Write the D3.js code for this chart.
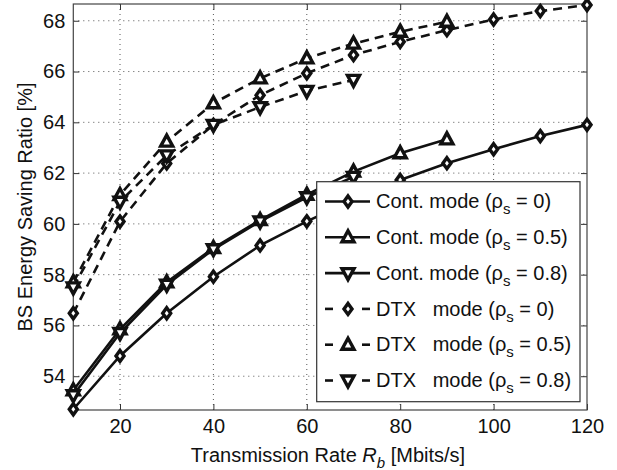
<!DOCTYPE html>
<html><head><meta charset="utf-8">
<script src="https://cdn.jsdelivr.net/npm/d3@7"></script>
<style>
body{margin:0;background:#fff;}
text{font-family:"Liberation Sans",Arial,sans-serif;fill:#111;}
</style></head>
<body>
<svg id="c" width="617" height="470"></svg>
<script>
const rates = [10,20,30,40,50,60,70,80,90,100,110,120];
const xTicks = [20,40,60,80,100,120];
const yTicks = [54,56,58,60,62,64,66,68];

const contRho0   = [52.7,54.8,56.48,57.92,59.15,60.1,60.95,61.73,62.39,62.94,63.46,63.9];
const contRho05  = [53.45,55.85,57.7,59.05,60.15,61.15,62.06,62.78,63.33];
const contRho08  = [53.25,55.7,57.6,59.0,60.1,61.05,61.85];
const dtxRho0    = [56.48,60.09,62.38,63.9,65.07,65.93,66.65,67.17,67.63,68.05,68.38,68.62];
const dtxRho05   = [57.7,61.14,63.24,64.75,65.73,66.52,67.1,67.57,67.96];
const dtxRho08   = [57.5,60.87,62.7,63.9,64.6,65.24,65.67];

const seriesNames = ["Cont. mode","Cont. mode","Cont. mode","DTX\u00A0\u00A0\u00A0mode","DTX\u00A0\u00A0\u00A0mode","DTX\u00A0\u00A0\u00A0mode"];
const rhoLabels = ["0","0.5","0.8","0","0.5","0.8"];

const series = [
  {vals:contRho0, marker:"diamond", dashed:false},
  {vals:contRho05, marker:"up", dashed:false},
  {vals:contRho08, marker:"down", dashed:false},
  {vals:dtxRho0, marker:"diamond", dashed:true},
  {vals:dtxRho05, marker:"up", dashed:true},
  {vals:dtxRho08, marker:"down", dashed:true}
];

const FS = "20px";
const svg = d3.select("#c");
const L=73.3, R=587, T=4, B=410;
const x = d3.scaleLinear().domain([10,120]).range([L,R]);
const y = d3.scaleLinear().domain([52.67,68.66]).range([B,T]);

// grid
const g = svg.append("g");
g.selectAll(".gx").data(xTicks.filter(d=>d<120)).enter().append("line")
 .attr("x1",d=>x(d)).attr("x2",d=>x(d)).attr("y1",T).attr("y2",B)
 .attr("stroke","#555").attr("stroke-width",1).attr("stroke-dasharray","1,4");
g.selectAll(".gy").data(yTicks).enter().append("line")
 .attr("y1",d=>y(d)).attr("y2",d=>y(d)).attr("x1",L).attr("x2",R)
 .attr("stroke","#555").attr("stroke-width",1).attr("stroke-dasharray","1,4");

// axes
const xAxis = d3.axisBottom(x).tickValues(xTicks).tickSize(-6).tickPadding(9);
const yAxis = d3.axisLeft(y).tickValues(yTicks).tickSize(-6).tickPadding(8);
const ax = svg.append("g").attr("transform",`translate(0,${B})`).call(xAxis);
const ay = svg.append("g").attr("transform",`translate(${L},0)`).call(yAxis);
const ax2 = svg.append("g").attr("transform",`translate(0,${T})`).call(d3.axisTop(x).tickValues(xTicks).tickSize(-6).tickFormat(""));
const ay2 = svg.append("g").attr("transform",`translate(${R},0)`).call(d3.axisRight(y).tickValues(yTicks).tickSize(-6).tickFormat(""));
[ax,ay,ax2,ay2].forEach(a=>{
  a.select(".domain").remove();
  a.selectAll("line").attr("stroke","#333").attr("stroke-width",1);
  a.selectAll("text").style("font-size",FS).attr("fill","#111");
});
svg.append("rect").attr("x",L).attr("y",T).attr("width",R-L).attr("height",B-T)
 .attr("fill","none").attr("stroke","#444").attr("stroke-width",1.2);

// marker paths
function markerPath(type){
  if(type==="diamond") return "M0,-5.5L4,0L0,5.5L-4,0Z";
  if(type==="up") return "M0,-6.5L6,4.5L-6,4.5Z";
  return "M0,6.5L6,-4.5L-6,-4.5Z";
}

const line = d3.line().x((d,i)=>x(rates[i])).y(d=>y(d));
const plot = svg.append("g");
series.forEach(s=>{
  plot.append("path").datum(s.vals).attr("d",line)
   .attr("fill","none").attr("stroke","#111").attr("stroke-width",2.6)
   .attr("stroke-dasharray",s.dashed?"9,6":null);
});
series.forEach(s=>{
  plot.selectAll(null).data(s.vals).enter().append("path")
   .attr("d",markerPath(s.marker))
   .attr("transform",(d,i)=>`translate(${x(rates[i])},${y(d)})`)
   .attr("fill","#fff").attr("stroke","#111").attr("stroke-width",3.4)
   .attr("stroke-linejoin","miter");
});

// legend
const lg = svg.append("g");
lg.append("rect").attr("x",316.7).attr("y",181.7).attr("width",263.3).attr("height",220)
 .attr("fill","#fff").attr("stroke","#333").attr("stroke-width",1.2);
series.forEach((s,i)=>{
  const yy = 201.5 + i*35.8;
  if(s.dashed){
    lg.append("line").attr("x1",325).attr("x2",333).attr("y1",yy).attr("y2",yy).attr("stroke","#111").attr("stroke-width",2.6);
    lg.append("line").attr("x1",362).attr("x2",370).attr("y1",yy).attr("y2",yy).attr("stroke","#111").attr("stroke-width",2.6);
  } else {
    lg.append("line").attr("x1",325).attr("x2",370).attr("y1",yy).attr("y2",yy).attr("stroke","#111").attr("stroke-width",2.6);
  }
  lg.append("path").attr("d",markerPath(s.marker)).attr("transform",`translate(348,${yy})`)
   .attr("fill","#fff").attr("stroke","#111").attr("stroke-width",3.4);
  const t = lg.append("text").attr("x",376).attr("y",yy+6.7).style("font-size",FS);
  t.append("tspan").text(seriesNames[i]+" (\u03C1");
  t.append("tspan").attr("dy",6).style("font-size","15px").text("s");
  t.append("tspan").attr("dy",-6).text(" = "+rhoLabels[i]+")");
});

// axis labels
const xl = svg.append("text").attr("x",328).attr("y",462).attr("text-anchor","middle").style("font-size",FS);
xl.append("tspan").text("Transmission Rate ");
xl.append("tspan").style("font-style","italic").text("R");
xl.append("tspan").attr("dy",6).style("font-style","italic").style("font-size","15px").text("b");
xl.append("tspan").attr("dy",-6).text(" [Mbits/s]");
svg.append("text").attr("transform","translate(32,207) rotate(-90)").attr("text-anchor","middle")
 .style("font-size",FS).text("BS Energy Saving Ratio [%]");
</script>
</body></html>
